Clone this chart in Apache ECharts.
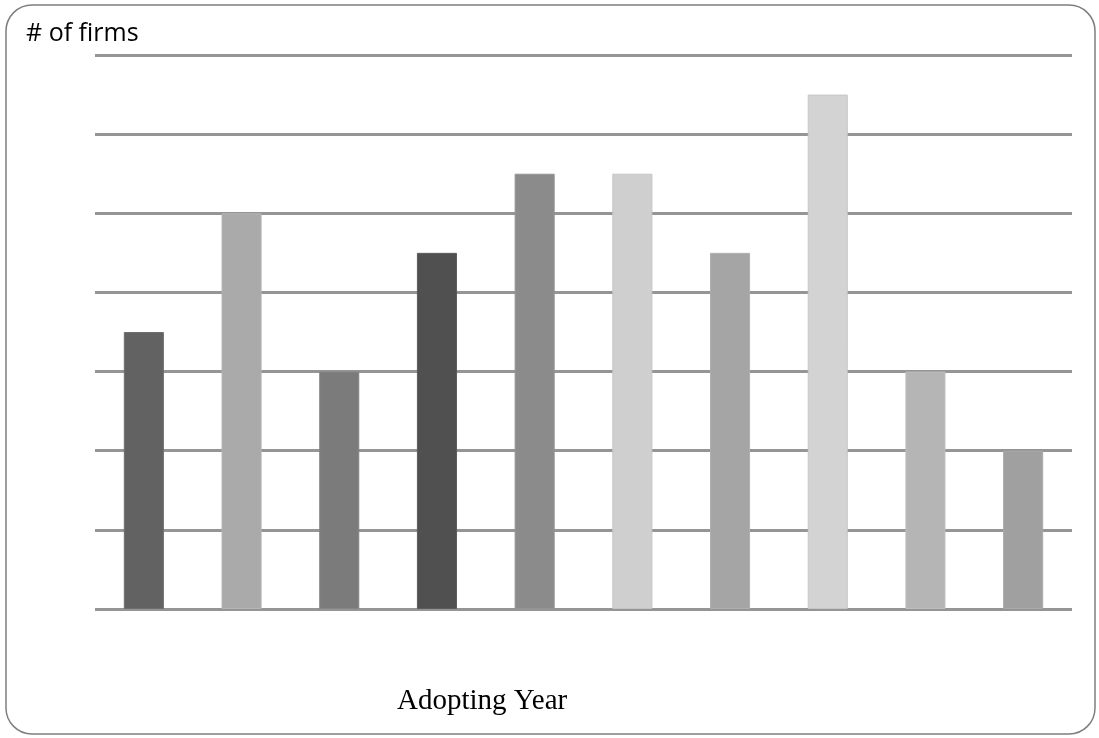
<!DOCTYPE html>
<html>
<head>
<meta charset="utf-8">
<script src="https://cdn.jsdelivr.net/npm/echarts@6/dist/echarts.min.js"></script>
<style>
  html, body { margin: 0; padding: 0; background: #fff; }
  #chart { width: 1099px; height: 738px; }
</style>
</head>
<body>
<div id="chart"></div>
<script>
// Firms adopting per year (axis labels are not shown on the chart)
const categories = ['1', '2', '3', '4', '5', '6', '7', '8', '9', '10'];
const firmCounts = [7, 10, 6, 9, 11, 11, 9, 13, 6, 4];
const barColors = ['#626262', '#aaaaaa', '#7b7b7b', '#505050', '#8b8b8b',
                   '#cfcfcf', '#a5a5a5', '#d3d3d3', '#b5b5b5', '#a0a0a0'];
const barBorders = ['#6e6e6e', '#b4b4b4', '#858585', '#5c5c5c', '#959595',
                    '#c4c4c4', '#afafaf', '#c6c6c6', '#bdbdbd', '#aaaaaa'];

const chart = echarts.init(document.getElementById('chart'), null, { renderer: 'canvas' });

chart.setOption({
  animation: false,
  backgroundColor: '#ffffff',
  grid: { left: 95, right: 27, top: 55, bottom: 129, containLabel: false },
  xAxis: {
    type: 'category',
    data: categories,
    axisLine: { show: false },
    axisTick: { show: false },
    axisLabel: { show: false },
    splitLine: { show: false }
  },
  yAxis: {
    type: 'value',
    min: 0,
    max: 14,
    interval: 2,
    axisLine: { show: false },
    axisTick: { show: false },
    axisLabel: { show: false },
    splitLine: { show: true, lineStyle: { color: '#959595', width: 3 } }
  },
  series: [{
    type: 'bar',
    barWidth: '41%',
    data: firmCounts.map((v, i) => ({
      value: v,
      itemStyle: { color: barColors[i], borderColor: barBorders[i], borderWidth: 1 }
    }))
  }],
  graphic: [
    {
      type: 'rect',
      shape: { x: 6, y: 5, width: 1089, height: 729, r: 26 },
      style: { fill: 'none', stroke: '#7f7f7f', lineWidth: 1.5 },
      z: -1
    },
    {
      type: 'text',
      left: 26,
      top: 21,
      style: { text: '# of firms', font: '25px "Open Sans", sans-serif', fill: '#000' }
    },
    {
      type: 'text',
      left: 397,
      top: 687,
      style: { text: 'Adopting Year', font: '29px "Liberation Serif", serif', fill: '#000' }
    }
  ]
});
</script>
</body>
</html>
